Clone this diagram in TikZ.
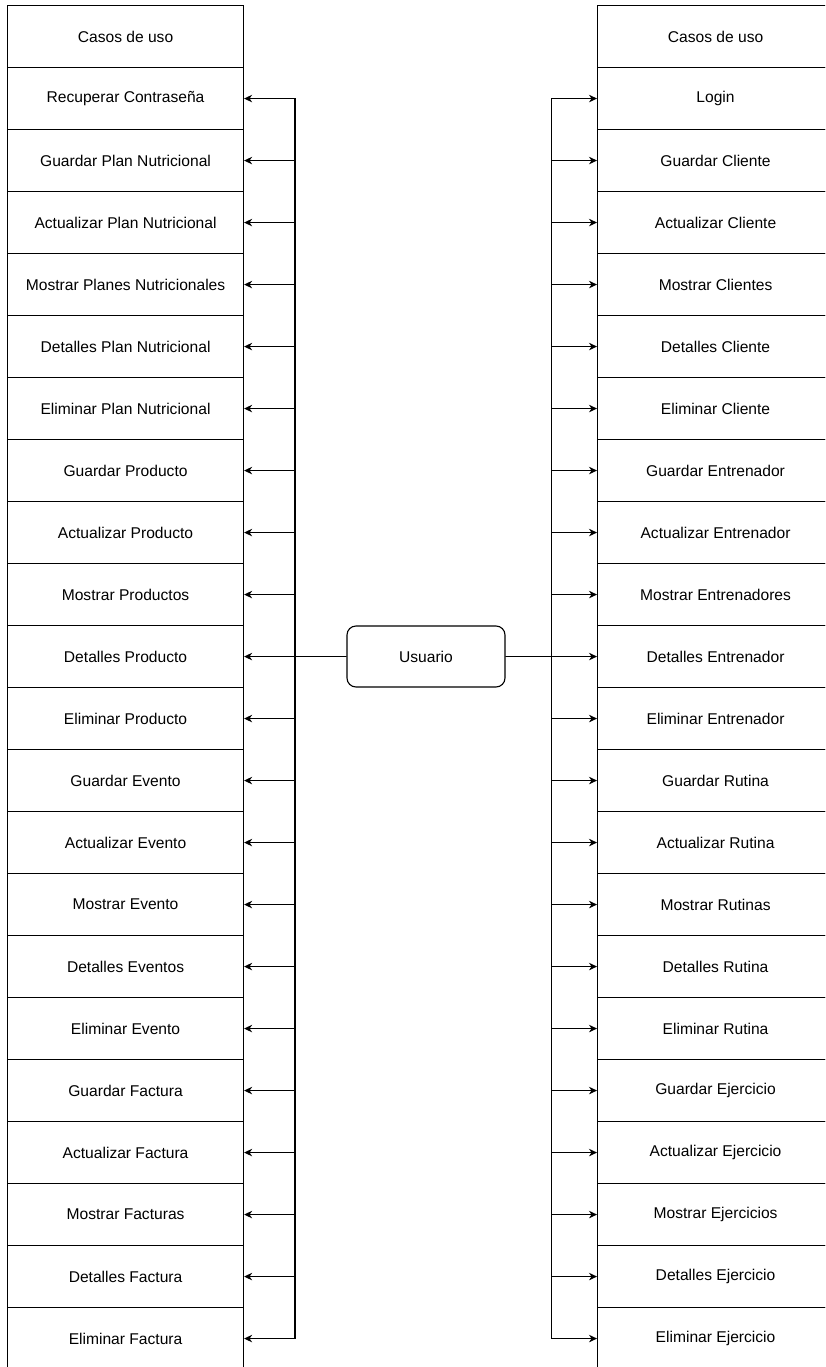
\documentclass[tikz,border=0pt]{standalone}
\usepackage{fontspec}
\setmainfont{Liberation Sans}
\usetikzlibrary{arrows.meta,calc}
\begin{document}
\begin{tikzpicture}[x=1pt,y=-1pt,line width=1.1pt,
  case/.style={draw,minimum width=236pt,minimum height=62pt,inner sep=0pt,
    font=\fontsize{15.6}{18}\selectfont,anchor=north west},
  actor/.style={draw,rounded corners=9pt,minimum width=158pt,minimum height=61pt,
    inner sep=0pt,font=\fontsize{15.6}{18}\selectfont},
  arr/.style={-{Stealth[length=8pt,width=7.5pt,inset=2.5pt]}}]
\useasboundingbox (0,0) rectangle (825,1367);
\clip (0,0) rectangle (825,1367);
\foreach \t [count=\i from 0] in {Casos de uso,Recuperar Contraseña,Guardar Plan Nutricional,Actualizar Plan Nutricional,Mostrar Planes Nutricionales,Detalles Plan Nutricional,Eliminar Plan Nutricional,Guardar Producto,Actualizar Producto,Mostrar Productos,Detalles Producto,Eliminar Producto,Guardar Evento,Actualizar Evento,Mostrar Evento,Detalles Eventos,Eliminar Evento,Guardar Factura,Actualizar Factura,Mostrar Facturas,Detalles Factura,Eliminar Factura}
  {\node[case] (L\i) at (7,{5+62*\i}) {\t};}
\foreach \t [count=\i from 0] in {Casos de uso,Login,Guardar Cliente,Actualizar Cliente,Mostrar Clientes,Detalles Cliente,Eliminar Cliente,Guardar Entrenador,Actualizar Entrenador,Mostrar Entrenadores,Detalles Entrenador,Eliminar Entrenador,Guardar Rutina,Actualizar Rutina,Mostrar Rutinas,Detalles Rutina,Eliminar Rutina,Guardar Ejercicio,Actualizar Ejercicio,Mostrar Ejercicios,Detalles Ejercicio,Eliminar Ejercicio}
  {\node[case] (R\i) at (597,{5+62*\i}) {\t};}
\node[actor] (U) at (426,656.5) {Usuario};
\coordinate (bl) at (295,656.5);
\coordinate (br) at (551.5,656.5);
\foreach \i in {1,...,21}{
  \draw[arr] (U.west) -- (bl) |- (L\i.east);
  \draw[arr] (U.east) -- (br) |- (R\i.west);
}
\end{tikzpicture}
\end{document}
